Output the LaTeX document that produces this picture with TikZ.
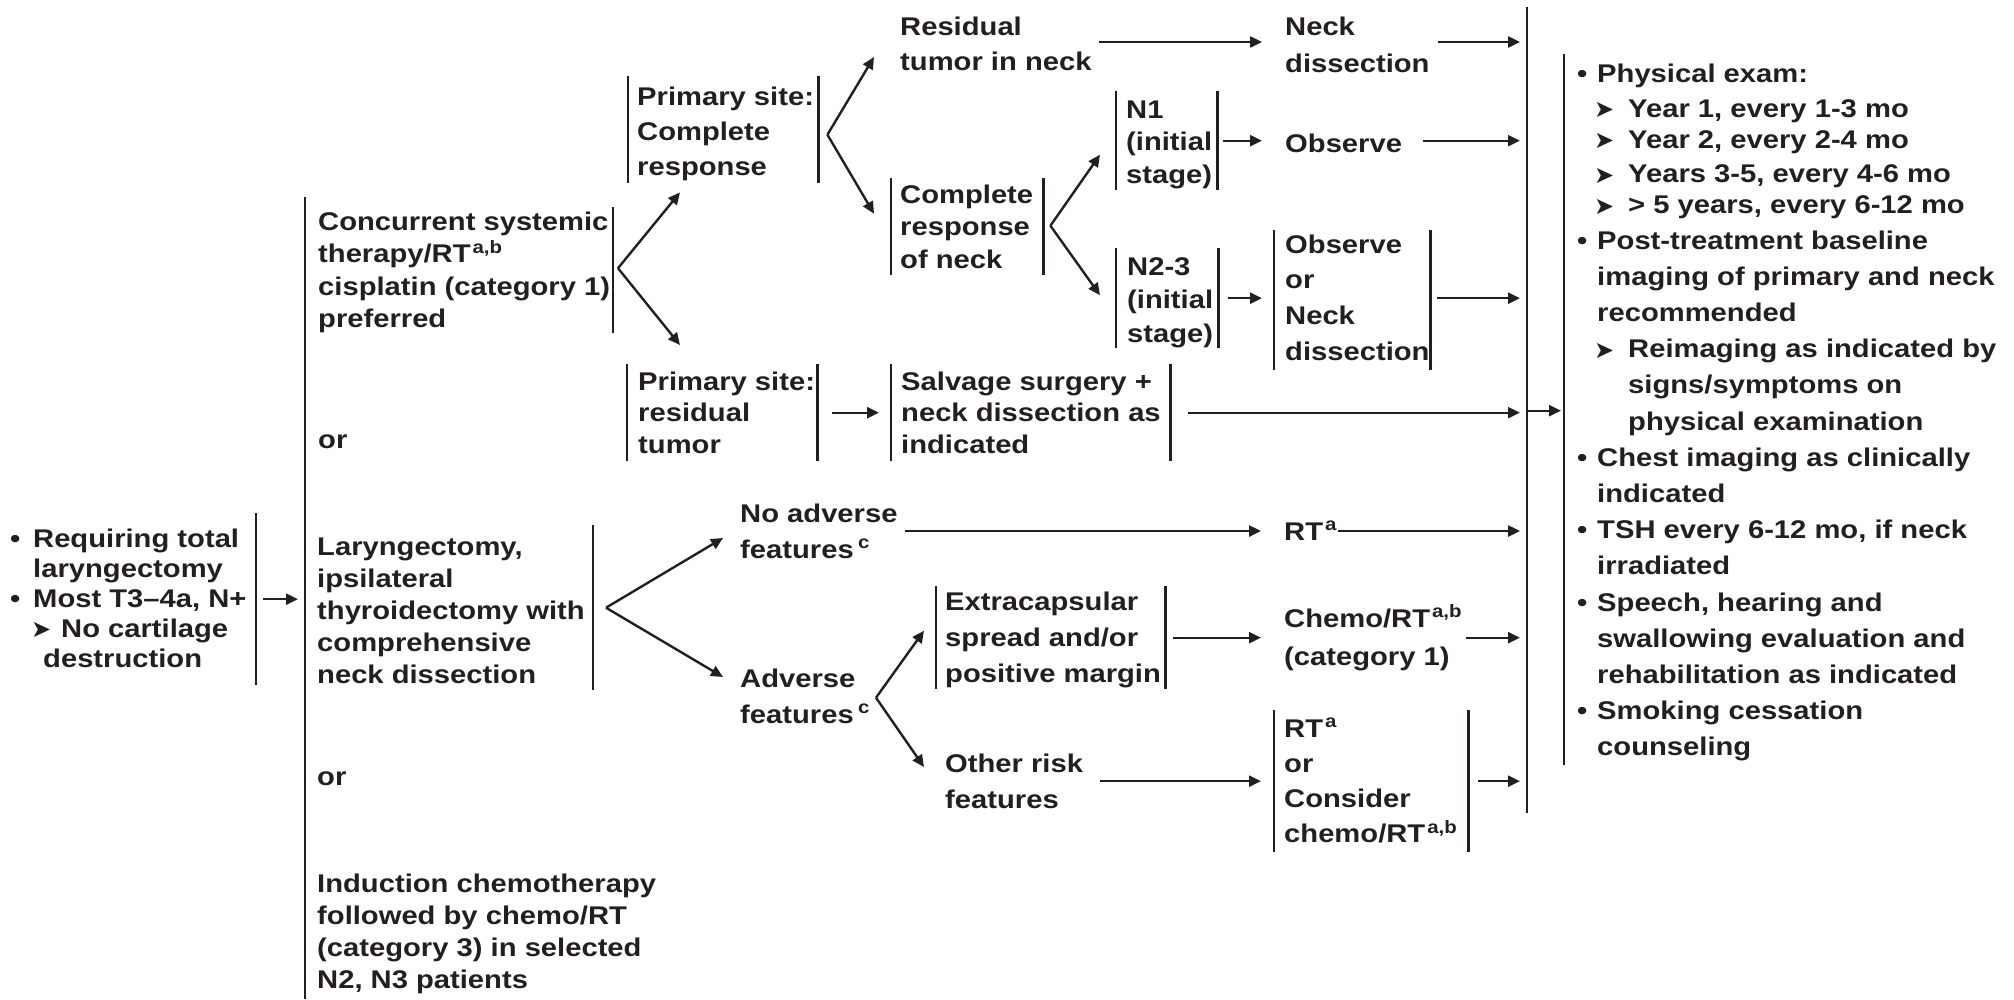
\documentclass[tikz,border=0pt]{standalone}
\usepackage{fontspec}
\setmainfont{Liberation Sans}[FakeStretch=1.14]
\newfontfamily\djv{DejaVu Sans}
\usetikzlibrary{arrows.meta,calc}
\definecolor{ink}{HTML}{231F20}
\newcommand{\mtab}[1]{\begin{tabular}[t]{@{}l@{}}#1\end{tabular}}
\newcommand{\mkr}{\raisebox{-0.5pt}{\djv\fontsize{24}{24}\selectfont ➤}}
\newcommand{\bul}[1]{\makebox[#1][l]{•}}
\newcommand{\sub}{\hspace{17pt}\makebox[34pt][l]{\mkr}}
\tikzset{
  barl/.style={draw=ink, line width=2.6pt, line cap=butt},
  arr/.style={draw=ink, line width=2.4pt, -{Triangle[length=12pt,width=11pt]}},
  vb/.style={inner sep=0pt, minimum width=0pt, anchor=north,
    append after command={(\tikzlastnode.north) edge[barl] (\tikzlastnode.south)}},
  bb/.style={inner sep=0pt, anchor=north west,
    append after command={(\tikzlastnode.north west) edge[barl] (\tikzlastnode.south west)
      (\tikzlastnode.north east) edge[barl] (\tikzlastnode.south east)}},
  tx/.style={inner sep=0pt, anchor=base west, text=ink, font=\bfseries\fontsize{25.6}{#1}\selectfont},
  tx/.default=32
}
\begin{document}
\begin{tikzpicture}[x=1pt,y=-1pt]
\useasboundingbox (0,0) rectangle (2014,999);
% bars
\node[vb, minimum height=172pt] (initB) at (256,513) {};
\node[vb, minimum height=802pt] (optB) at (305,197) {};
\node[vb, minimum height=126pt] (concB) at (613,207) {};
\node[vb, minimum height=165pt] (laryngB) at (593,525) {};
\node[bb, minimum width=190pt, minimum height=107pt] (pcrB) at (628,76) {};
\node[bb, minimum width=190pt, minimum height=97pt] (prtB) at (627,364) {};
\node[bb, minimum width=152pt, minimum height=97pt] (crnB) at (891,178) {};
\node[bb, minimum width=279pt, minimum height=97pt] (salvB) at (891,364) {};
\node[bb, minimum width=101pt, minimum height=99pt] (n1B) at (1116,91) {};
\node[bb, minimum width=102pt, minimum height=100pt] (n23B) at (1116,248) {};
\node[bb, minimum width=156pt, minimum height=140pt] (obsndB) at (1274,230) {};
\node[bb, minimum width=229pt, minimum height=103pt] (extraB) at (936,586) {};
\node[bb, minimum width=194pt, minimum height=142pt] (rtorB) at (1274,710) {};
\node[vb, minimum height=806pt] (bigB) at (1527,7) {};
\node[vb, minimum height=711pt] (fuB) at (1564,54) {};
% texts
\node[tx=30] (init) at (10,547) {\mtab{\bul{23pt}Requiring total\\\hspace{23pt}laryngectomy\\\bul{23pt}Most T3–4a, N+\\\hspace{21pt}\makebox[30pt][l]{\mkr}No cartilage\\\hspace{33pt}destruction}};
\node[tx=32.5] (conc) at (318,230) {\mtab{Concurrent systemic\\therapy/RT\kern2pt\textsuperscript{a,b}\\cisplatin (category 1)\\preferred}};
\node[tx] (or1) at (318,448) {or};
\node[tx=32] (laryng) at (317,555) {\mtab{Laryngectomy,\\ipsilateral\\thyroidectomy with\\comprehensive\\neck dissection}};
\node[tx] (or2) at (317,785) {or};
\node[tx=32] (induct) at (317,892) {\mtab{Induction chemotherapy\\followed by chemo/RT\\(category 3) in selected\\N2, N3 patients}};
\node[tx=35] (pcr) at (637,105) {\mtab{Primary site:\\Complete\\response}};
\node[tx=31.5] (prt) at (638,390) {\mtab{Primary site:\\residual\\tumor}};
\node[tx=35] (rtn) at (900,35) {\mtab{Residual\\tumor in neck}};
\node[tx=32.5] (crn) at (900,203) {\mtab{Complete\\response\\of neck}};
\node[tx=37] (nd1) at (1285,35) {\mtab{Neck\\dissection}};
\node[tx=32.5] (n1) at (1126,118) {\mtab{N1\\(initial\\stage)}};
\node[tx] (obs) at (1285,152) {Observe};
\node[tx=33.5] (n23) at (1127,275) {\mtab{N2-3\\(initial\\stage)}};
\node[tx=35.7] (obsnd) at (1285,253) {\mtab{Observe\\or\\Neck\\dissection}};
\node[tx=31.5] (salv) at (901,390) {\mtab{Salvage surgery +\\neck dissection as\\indicated}};
\node[tx=36] (noadv) at (740,522) {\mtab{No adverse\\features\,\textsuperscript{c}}};
\node[tx] (rta) at (1284,540) {RT\kern2pt\textsuperscript{a}};
\node[tx=36] (adv) at (740,687) {\mtab{Adverse\\features\,\textsuperscript{c}}};
\node[tx=36] (extra) at (945,610) {\mtab{Extracapsular\\spread and/or\\positive margin}};
\node[tx=38] (chemo) at (1284,627) {\mtab{Chemo/RT\kern2pt\textsuperscript{a,b}\\(category 1)}};
\node[tx=36] (other) at (945,772) {\mtab{Other risk\\features}};
\node[tx=35.3] (rtor) at (1284,737) {\mtab{RT\kern2pt\textsuperscript{a}\\or\\Consider\\chemo/RT\kern2pt\textsuperscript{a,b}}};
\node[tx=36.2] (fu) at (1577,82) {\mtab{\bul{20pt}Physical exam:\\[-1pt]
\sub Year 1, every 1-3 mo\\[-5pt]
\sub Year 2, every 2-4 mo\\[-2pt]
\sub Years 3-5, every 4-6 mo\\[-5pt]
\sub > 5 years, every 6-12 mo\\[-1pt]
\bul{20pt}Post-treatment baseline\\
\hspace{20pt}imaging of primary and neck\\
\hspace{20pt}recommended\\
\sub Reimaging as indicated by\\
\hspace{51pt}signs/symptoms on\\
\hspace{51pt}physical examination\\
\bul{20pt}Chest imaging as clinically\\
\hspace{20pt}indicated\\
\bul{20pt}TSH every 6-12 mo, if neck\\
\hspace{20pt}irradiated\\
\bul{20pt}Speech, hearing and\\
\hspace{20pt}swallowing evaluation and\\
\hspace{20pt}rehabilitation as indicated\\
\bul{20pt}Smoking cessation\\
\hspace{20pt}counseling}};
% connectors
\draw[arr] ($(initB.center)+(7,0)$) -- ($(initB.center -| optB.center)+(-7,0)$);
\coordinate (cbr) at ($(concB.center)+(5,-2)$);
\draw[arr] (cbr) -- ($(pcrB.south west)+(52,9)$);
\draw[arr] (cbr) -- ($(prtB.north west)+(53,-19)$);
\coordinate (pbr) at ($(pcrB.east)+(9,5)$);
\draw[arr] (pbr) -- ($(rtn.base west)+(-26,22)$);
\draw[arr] (pbr) -- ($(crnB.west)+(-17,-13)$);
\draw[arr] ($(rtn.base east)+(7,7)$) -- ($(nd1.base west)+(-23,7)$);
\draw[arr] ($(nd1.base east)+(8,7)$) -- ($(nd1.base east -| bigB.center)+(-7,7)$);
\coordinate (nbr) at ($(crnB.east)+(7,-1)$);
\draw[arr] (nbr) -- ($(n1B.west)+(-16,14)$);
\draw[arr] (nbr) -- ($(n23B.west)+(-16,-3)$);
\draw[arr] ($(n1B.east)+(6,0)$) -- ($(n1B.east -| obs.base west)+(-23,0)$);
\draw[arr] ($(n1B.east -| obs.base east)+(21,0)$) -- ($(n1B.east -| bigB.center)+(-7,0)$);
\draw[arr] ($(n23B.east)+(10,0)$) -- ($(n23B.east -| obsndB.west)+(-12,0)$);
\draw[arr] ($(obsndB.east)+(7,-2)$) -- ($(obsndB.east -| bigB.center)+(-7,-2)$);
\draw[arr] ($(prtB.east)+(15,0)$) -- ($(salvB.west)+(-12,0)$);
\draw[arr] ($(salvB.east)+(18,0)$) -- ($(salvB.east -| bigB.center)+(-7,0)$);
\draw[arr] ($(salvB.east -| bigB.center)+(0,-2)$) -- ($(salvB.east -| fuB.center)+(-3,-2)$);
\coordinate (lbr) at ($(laryngB.center)+(13,0)$);
\draw[arr] (lbr) -- ($(noadv.base west)+(-17,16)$);
\draw[arr] (lbr) -- ($(adv.base west)+(-17,-10)$);
\draw[arr] ($(noadv.base east)+(7,9)$) -- ($(rta.base west)+(-23,-9)$);
\draw[arr] ($(rta.base east)+(1,-9)$) -- ($(rta.base east -| bigB.center)+(-7,-9)$);
\coordinate (abr) at ($(extraB.west)+(-60,60)$);
\draw[arr] (abr) -- ($(extraB.west)+(-12,-7)$);
\draw[arr] (abr) -- ($(other.base west)+(-21,-5)$);
\draw[arr] ($(extraB.east)+(8,0)$) -- ($(extraB.east -| chemo.base west)+(-23,0)$);
\draw[arr] ($(extraB.east -| chemo.east)+(4,0)$) -- ($(extraB.east -| bigB.center)+(-7,0)$);
\draw[arr] ($(rtorB.west -| other.base east)+(17,0)$) -- ($(rtorB.west)+(-13,0)$);
\draw[arr] ($(rtorB.east)+(10,0)$) -- ($(rtorB.east -| bigB.center)+(-7,0)$);
\end{tikzpicture}
\end{document}
